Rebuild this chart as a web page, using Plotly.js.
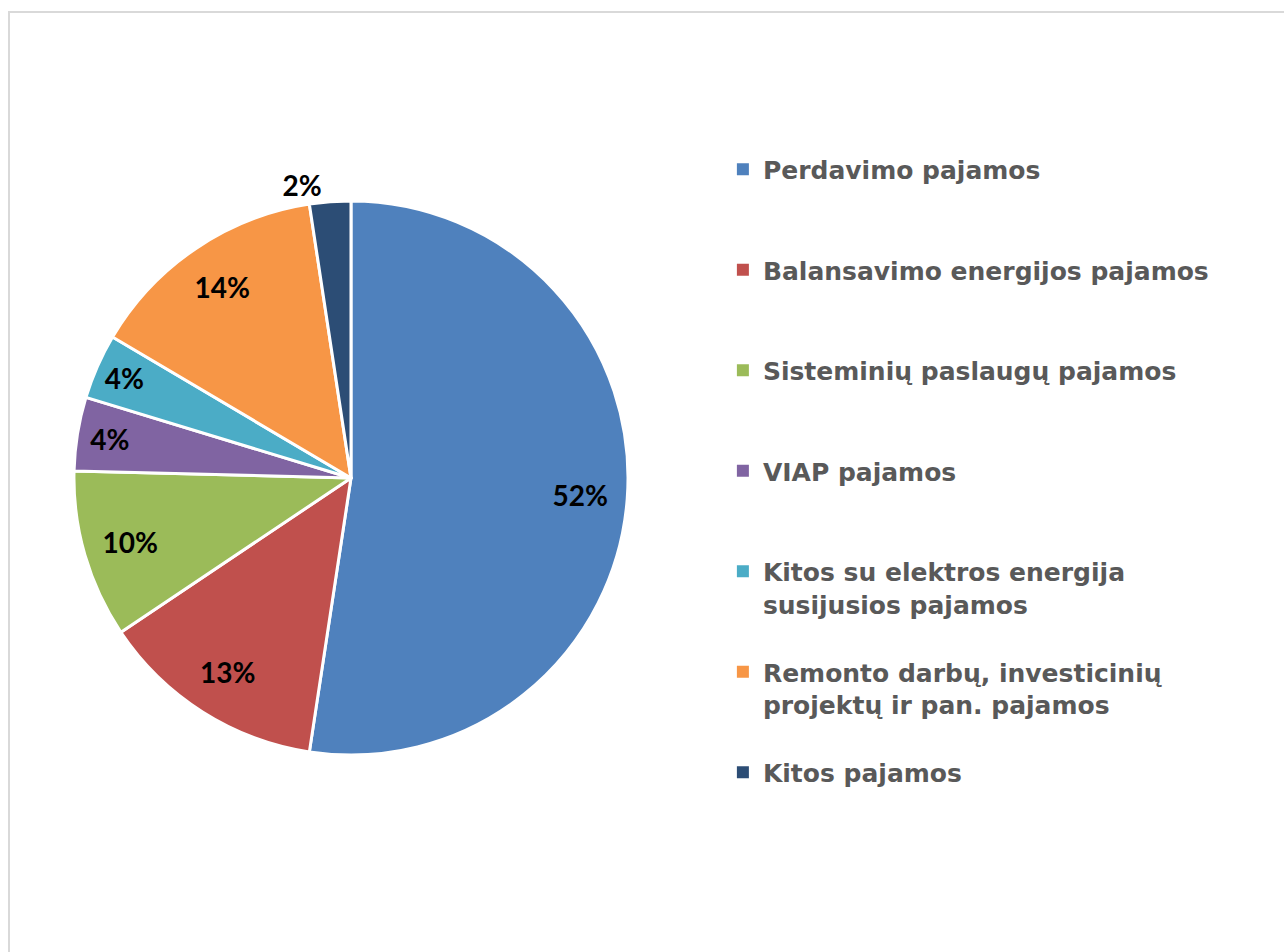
<!DOCTYPE html>
<html>
<head>
<meta charset="utf-8">
<script src="https://cdn.plot.ly/plotly-3.0.1.min.js"></script>
<style>
  html, body { margin: 0; padding: 0; background: #ffffff; }
  #chart { width: 1284px; height: 952px; }
</style>
</head>
<body>
<div id="chart"></div>
<script>
// ---- data ----
const categories = [
  "Perdavimo pajamos",
  "Balansavimo energijos pajamos",
  "Sisteminių paslaugų pajamos",
  "VIAP pajamos",
  "Kitos su elektros energija<br>susijusios pajamos",
  "Remonto darbų, investicinių<br>projektų ir pan. pajamos",
  "Kitos pajamos"
];
const shares = [52.4, 13.2, 9.8, 4.3, 3.8, 14.1, 2.4];
const colors = ["#4F81BD", "#C0504D", "#9BBB59", "#8064A2", "#4BACC6", "#F79646", "#2C4D75"];
const labelPositions = ["inside", "inside", "inside", "inside", "inside", "inside", "outside"];

// legend labels padded to equal height (3 lines) so entries are evenly spaced
const legendLabels = categories.map(c => {
  const n = c.split("<br>").length;
  let s = c;
  for (let i = n; i < 3; i++) s += "<br>\u00a0";
  return s;
});

const domain = { x: [0.0576, 0.4891], y: [0.2069, 0.7889] };
const labelFont = { family: "Lato, 'Open Sans', sans-serif", size: 28, color: "#000000", weight: 700 };

const common = {
  type: "pie",
  labels: legendLabels,
  values: shares,
  sort: false,
  direction: "clockwise",
  rotation: 0,
  domain: domain
};

// underlying pie (fully covered by the main pie) that supplies borderless legend swatches
const legendPie = Object.assign({}, common, {
  marker: { colors: colors, line: { width: 0 } },
  textinfo: "none",
  hoverinfo: "skip",
  showlegend: true
});

const slices = Object.assign({}, common, {
  marker: { colors: colors, line: { color: "#ffffff", width: 3 } },
  textinfo: "none",
  hoverinfo: "label+percent",
  showlegend: false
});

const labelRing = Object.assign({}, common, {
  hole: 0.66,
  marker: { colors: colors.map(() => "rgba(0,0,0,0)"), line: { width: 0 } },
  texttemplate: "%{percent:.0%}",
  textposition: labelPositions,
  insidetextorientation: "horizontal",
  textfont: labelFont,
  insidetextfont: labelFont,
  outsidetextfont: labelFont,
  hoverinfo: "skip",
  showlegend: false
});

const layout = {
  width: 1284,
  height: 952,
  margin: { l: 0, r: 0, t: 0, b: 0 },
  paper_bgcolor: "#ffffff",
  uniformtext: { minsize: 28, mode: "show" },
  legend: {
    x: 0.563,
    xanchor: "left",
    y: 0.846,
    yanchor: "top",
    valign: "top",
    font: { family: "'DejaVu Sans', sans-serif", size: 25, color: "#595959", weight: 700 },
    bgcolor: "rgba(0,0,0,0)"
  },
  shapes: [{
    type: "rect",
    xref: "paper", yref: "paper",
    x0: 9 / 1284, x1: 1.02,
    y0: -0.02, y1: 1 - 12 / 952,
    line: { color: "#D9D9D9", width: 2 },
    fillcolor: "rgba(0,0,0,0)",
    layer: "below"
  }]
};

Plotly.newPlot("chart", [legendPie, slices, labelRing], layout, { displayModeBar: false });
</script>
</body>
</html>
